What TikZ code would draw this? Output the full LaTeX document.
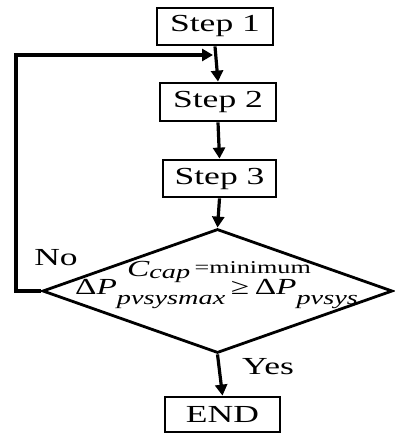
\documentclass[tikz,border=0pt]{standalone}
\usepackage{fontspec}
\setmainfont{Liberation Serif}
\usepackage{graphicx}
\usetikzlibrary{arrows.meta,shapes.geometric}
\newcommand{\sx}[1]{\scalebox{1.45}[1]{#1}}
\begin{document}
\begin{tikzpicture}[x=1pt,y=-1pt,
  box/.style={draw,line width=2.8pt,inner sep=0pt,font=\fontsize{24.5}{26}\selectfont},
  conn/.style={line width=3.2pt,-{Triangle[length=11pt,width=12pt]}},
  lbl/.style={inner sep=0pt,font=\fontsize{24.5}{26}\selectfont}]
\fill[white] (0,0) rectangle (394,435);
\useasboundingbox (0,0) rectangle (394,435);
\node[box,minimum width=116pt,minimum height=37pt] (s1) at (215,26.5) {\sx{Step 1}};
\node[box,minimum width=116pt,minimum height=38pt] (s2) at (218,102) {\sx{Step 2}};
\node[box,minimum width=113pt,minimum height=37pt] (s3) at (219.5,178.5) {\sx{Step 3}};
\node[draw,diamond,line width=2.8pt,inner sep=0pt,minimum width=350pt,minimum height=124pt] (d) at (217.5,291) {};
\node[box,minimum width=115pt,minimum height=35pt] (e) at (222.5,414.5) {\sx{END}};
\node[anchor=base,inner sep=0pt] (l1) at (219,276) {\sx{{\fontsize{23}{24}\selectfont\itshape C}\raisebox{-2pt}{\fontsize{19.5}{20}\selectfont\itshape cap}{\fontsize{18}{18}\selectfont\raisebox{3pt}{\,=minimum}}}};
\node[anchor=base,inner sep=0pt] (l2) at (216.5,294) {\sx{\fontsize{23}{24}\selectfont Δ\textit{P}\raisebox{-10pt}{\fontsize{19.5}{20}\selectfont\itshape pvsysmax}\,≥\,Δ\textit{P}\raisebox{-10pt}{\fontsize{19.5}{20}\selectfont\itshape pvsys}}};
\node[lbl] (no) at (56,258) {\sx{No}};
\node[lbl] (yes) at (268,367) {\sx{Yes}};
\coordinate (lc) at (16,55);
\coordinate (j) at (213,55);
\draw[conn] (s1.south) -- (s2.north);
\draw[conn] (s2.south) -- (s3.north);
\draw[conn] (s3.south) -- (d.north);
\draw[conn] (d.south) -- (e.north);
\draw[conn] (d.west) -| (lc) -- (j);
\end{tikzpicture}
\end{document}
